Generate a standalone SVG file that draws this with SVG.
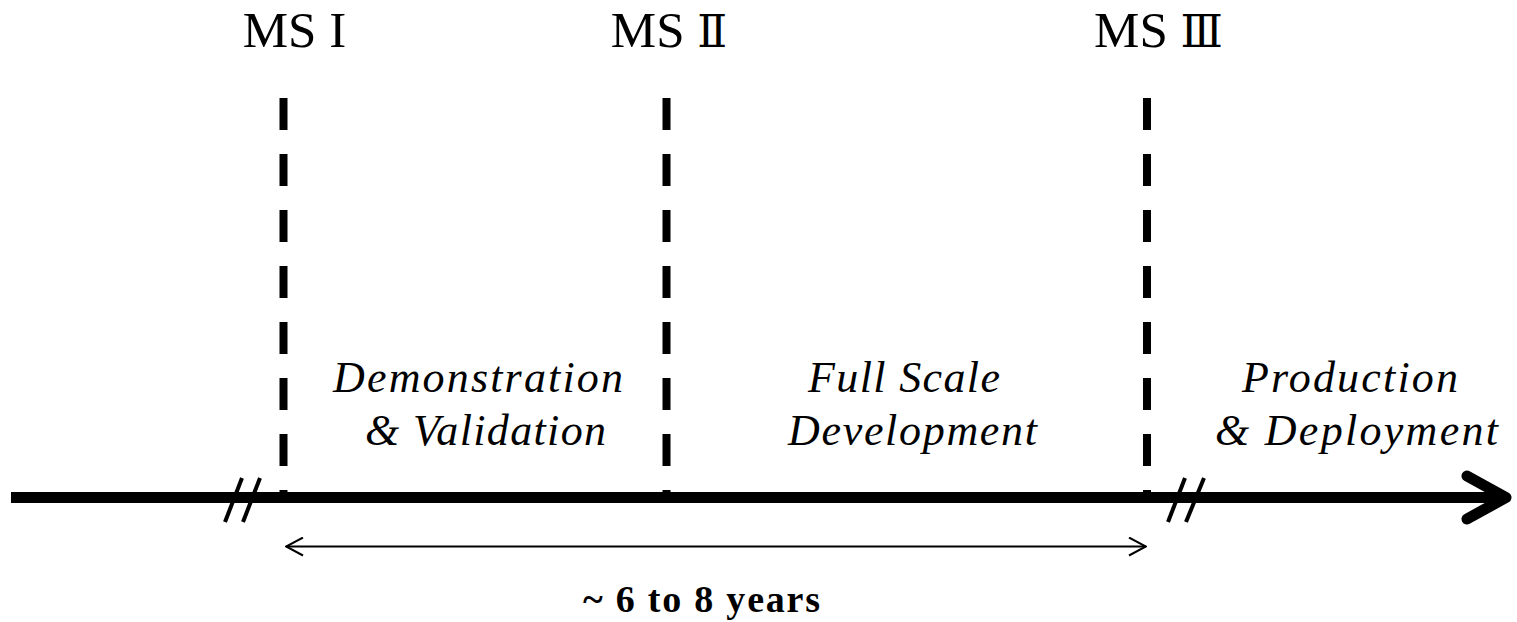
<svg xmlns="http://www.w3.org/2000/svg" width="1517" height="622" viewBox="0 0 1517 622">
<style>
.ms{font-family:"Liberation Serif",serif;font-size:51px;fill:#000;text-anchor:middle}
.ph{font-family:"Liberation Serif",serif;font-style:italic;font-size:44px;fill:#000;text-anchor:middle}
.yr{font-family:"Liberation Serif",serif;font-weight:bold;font-size:38px;fill:#000;text-anchor:middle}
.rn{font-family:"DejaVu Serif",serif;font-size:44px}
.dash{stroke:#000;stroke-width:8;stroke-dasharray:32 24;fill:none}
.brk{stroke:#000;stroke-width:4;fill:none}
</style>
<defs>
<marker id="open" viewBox="0 0 20 20" refX="19" refY="10" markerWidth="20" markerHeight="20" markerUnits="userSpaceOnUse" orient="auto-start-reverse">
<path d="M2,1 L19,10 L2,19" fill="none" stroke="#000" stroke-width="2"/>
</marker>
</defs>
<rect width="1517" height="622" fill="#fff"/>
<g id="milestone-1">
<line class="dash" x1="283.5" y1="98" x2="283.5" y2="496"/>
<text class="ms" x="294.5" y="47">MS I</text>
</g>
<g id="milestone-2">
<line class="dash" x1="666.5" y1="98" x2="666.5" y2="496"/>
<text class="ms" x="669" y="47">MS <tspan class="rn">Ⅱ</tspan></text>
</g>
<g id="milestone-3">
<line class="dash" x1="1147" y1="98" x2="1147" y2="496"/>
<text class="ms" x="1158.5" y="47">MS <tspan class="rn">Ⅲ</tspan></text>
</g>
<g id="phase-demval">
<text class="ph" x="478" y="392" textLength="290" lengthAdjust="spacing">Demonstration</text>
<text class="ph" x="485.5" y="445" textLength="241" lengthAdjust="spacing">&amp; Validation</text>
</g>
<g id="phase-fsd">
<text class="ph" x="904" y="392" textLength="192" lengthAdjust="spacing">Full Scale</text>
<text class="ph" x="912.5" y="445" textLength="249" lengthAdjust="spacing">Development</text>
</g>
<g id="phase-pd">
<text class="ph" x="1350" y="392" textLength="216" lengthAdjust="spacing">Production</text>
<text class="ph" x="1356.5" y="445" textLength="283" lengthAdjust="spacing">&amp; Deployment</text>
</g>
<g id="duration">
<text class="yr" x="701.5" y="612" textLength="237" lengthAdjust="spacing">~ 6 to 8 years</text>
</g>
<g id="connectors">
<line x1="11" y1="497.5" x2="1505" y2="497.5" stroke="#000" stroke-width="11"/>
<polyline points="1467,476 1506,497.5 1467,519" fill="none" stroke="#000" stroke-width="11" stroke-linecap="round" stroke-linejoin="round"/>
<line class="brk" x1="225" y1="522" x2="242" y2="478"/>
<line class="brk" x1="243" y1="522" x2="260" y2="478"/>
<line class="brk" x1="1168" y1="522" x2="1185" y2="478"/>
<line class="brk" x1="1186" y1="522" x2="1204" y2="478"/>
<line x1="286" y1="546.5" x2="1146" y2="546.5" stroke="#000" stroke-width="2" marker-start="url(#open)" marker-end="url(#open)"/>
</g>
</svg>
